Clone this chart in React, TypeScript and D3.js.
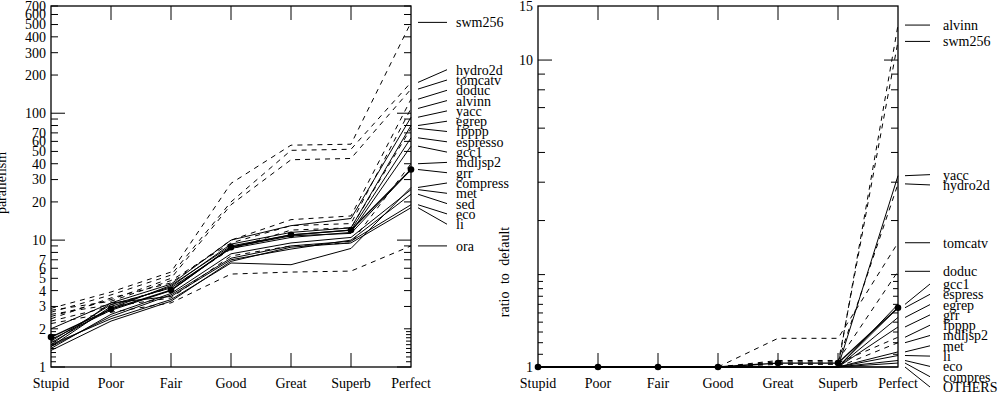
import React from "react";
import * as d3 from "d3";

const levels = ["Stupid", "Poor", "Fair", "Good", "Great", "Superb", "Perfect"];

// parallelism under each model (left panel)
const parSwm256 = [2.9, 3.9, 5.6, 28, 56, 57, 520];
const parHydro2d = [2.7, 3.7, 5.3, 20, 51, 52, 175];
const parTomcatv = [2.5, 3.4, 5.0, 19, 43, 44, 155];
const parDoduc = [2.4, 3.5, 4.6, 10, 14.5, 15.5, 129];
const parAlvinn = [2.8, 3.3, 4.8, 9.5, 13, 13.5, 109];
const parYacc = [1.5, 3.2, 4.5, 10, 13, 14.8, 93];
const parEgrep = [1.45, 3.0, 4.3, 9.3, 11.5, 12.5, 80];
const parFpppp = [2.6, 3.1, 4.2, 8.5, 12, 12.5, 76];
const parEspresso = [1.55, 2.9, 4.4, 9.0, 11, 12, 64];
const parGcc1 = [1.6, 3.1, 4.2, 8.6, 10.5, 11.5, 55];
const parMdljsp2 = [2.3, 3.0, 3.5, 7.5, 9, 9.5, 40];
const parGrr = [1.65, 2.8, 4.0, 8.8, 10.8, 11.3, 36];
const parCompress = [1.5, 2.4, 3.4, 6.6, 6.4, 8.6, 26];
const parMet = [1.4, 2.6, 3.8, 7.8, 9.5, 10.5, 25];
const parSed = [2.0, 3.2, 3.6, 7.0, 8.5, 10, 23];
const parEco = [1.45, 2.5, 3.7, 7.2, 9.0, 9.8, 19];
const parLi = [1.35, 2.3, 3.3, 6.8, 8.8, 9.5, 18];
const parOra = [2.2, 2.7, 3.2, 5.4, 5.6, 5.7, 9];
const parMean = [1.72, 2.86, 4.04, 8.8, 11, 12, 36];

// ratio to the default model (right panel)
const ratAlvinn = [1, 1, 1, 1, 1, 1, 13.0];
const ratSwm256 = [1, 1, 1, 1, 1.02, 1.02, 11.5];
const ratYacc = [1, 1, 1, 1, 1, 1, 4.2];
const ratHydro2d = [1, 1, 1, 1, 1.04, 1.04, 3.95];
const ratTomcatv = [1, 1, 1, 1, 1.24, 1.24, 2.54];
const ratDoduc = [1, 1, 1, 1, 1.05, 1.05, 2.05];
const ratGcc1 = [1, 1, 1, 1, 1, 1, 1.6];
const ratEspress = [1, 1, 1, 1, 1, 1, 1.56];
const ratEgrep = [1, 1, 1, 1, 1, 1, 1.45];
const ratGrr = [1, 1, 1, 1, 1, 1, 1.35];
const ratFpppp = [1, 1, 1, 1, 1.03, 1.03, 1.25];
const ratMdljsp2 = [1, 1, 1, 1, 1, 1, 1.2];
const ratMet = [1, 1, 1, 1, 1, 1, 1.12];
const ratLi = [1, 1, 1, 1, 1, 1, 1.09];
const ratEco = [1, 1, 1, 1, 1, 1, 1.05];
const ratCompres = [1, 1, 1, 1, 1, 1, 1.03];
const ratOthers = [1, 1, 1, 1, 1, 1, 1];
const ratMean = [1, 1, 1, 1, 1.03, 1.03, 1.56];

// axis ticks
const parMajor = [1, 10, 100];
const parMinor = [2, 3, 4, 5, 6, 7, 8, 9, 20, 30, 40, 50, 60, 70, 80, 90, 200, 300, 400, 500, 600, 700];
const parTickLabels = [1, 2, 3, 4, 5, 6, 7, 10, 20, 30, 40, 50, 60, 70, 100, 200, 300, 400, 500, 600, 700];
const ratMajor = [10];
const ratMinor = [2, 3, 4, 5, 6, 7, 8, 9];
const ratTickLabels = [1, 10, 15];
const fineTicks = [1.1, 1.2, 1.3, 1.4, 1.5, 1.6, 1.7, 1.8, 1.9];

const parSeries = [
	{ name: "swm256", values: parSwm256, dashed: true },
	{ name: "hydro2d", values: parHydro2d, dashed: true },
	{ name: "tomcatv", values: parTomcatv, dashed: true },
	{ name: "doduc", values: parDoduc, dashed: true },
	{ name: "alvinn", values: parAlvinn, dashed: true },
	{ name: "yacc", values: parYacc, dashed: false },
	{ name: "egrep", values: parEgrep, dashed: false },
	{ name: "fpppp", values: parFpppp, dashed: true },
	{ name: "espresso", values: parEspresso, dashed: false },
	{ name: "gcc1", values: parGcc1, dashed: false },
	{ name: "mdljsp2", values: parMdljsp2, dashed: true },
	{ name: "grr", values: parGrr, dashed: false },
	{ name: "compress", values: parCompress, dashed: false },
	{ name: "met", values: parMet, dashed: false },
	{ name: "sed", values: parSed, dashed: false },
	{ name: "eco", values: parEco, dashed: false },
	{ name: "li", values: parLi, dashed: false },
	{ name: "ora", values: parOra, dashed: true },
];

const ratSeries = [
	{ name: "alvinn", values: ratAlvinn, dashed: true },
	{ name: "swm256", values: ratSwm256, dashed: true },
	{ name: "yacc", values: ratYacc, dashed: false },
	{ name: "hydro2d", values: ratHydro2d, dashed: true },
	{ name: "tomcatv", values: ratTomcatv, dashed: true },
	{ name: "doduc", values: ratDoduc, dashed: true },
	{ name: "gcc1", values: ratGcc1, dashed: false },
	{ name: "espress", values: ratEspress, dashed: false },
	{ name: "egrep", values: ratEgrep, dashed: false },
	{ name: "grr", values: ratGrr, dashed: false },
	{ name: "fpppp", values: ratFpppp, dashed: true },
	{ name: "mdljsp2", values: ratMdljsp2, dashed: true },
	{ name: "met", values: ratMet, dashed: false },
	{ name: "li", values: ratLi, dashed: false },
	{ name: "eco", values: ratEco, dashed: false },
	{ name: "compres", values: ratCompres, dashed: false },
	{ name: "OTHERS", values: ratOthers, dashed: false },
];

const FONT = "'Liberation Serif', 'Times New Roman', serif";

// spread end labels so they don't overlap; clusters are centred on their mean
function placeLabels(items, gap, maxY) {
	const sorted = [...items].sort((a, b) => a.y - b.y);
	let groups = sorted.map(d => ({ items: [d], center: d.y }));
	let merged = true;
	while (merged) {
		merged = false;
		for (let i = 1; i < groups.length; i++) {
			const a = groups[i - 1], b = groups[i];
			const aBottom = a.center + (a.items.length - 1) * gap / 2;
			const bTop = b.center - (b.items.length - 1) * gap / 2;
			if (bTop - aBottom < gap) {
				const its = a.items.concat(b.items);
				groups.splice(i - 1, 2, { items: its, center: d3.mean(its, d => d.y) });
				merged = true;
				break;
			}
		}
	}
	const last = groups[groups.length - 1];
	const lastBottom = last.center + (last.items.length - 1) * gap / 2;
	if (lastBottom > maxY) last.center -= lastBottom - maxY;
	const out = [];
	groups.forEach(g => {
		const start = g.center - (g.items.length - 1) * gap / 2;
		g.items.forEach((d, i) => out.push({ ...d, ly: start + i * gap }));
	});
	return out;
}

function Panel(props) {
	const { left, right, top, bottom, domain, series, mean, major, minor, tickLabels, title, titleX, titleY, labelEnd } = props;
	const x = d3.scalePoint().domain(levels).range([left, right]);
	const y = d3.scaleLog().domain(domain).range([bottom, top]);
	const line = d3.line().x((d, i) => x(levels[i])).y(d => y(d));

	const labels = placeLabels(
		series.map(s => ({ name: s.name, y: y(s.values[s.values.length - 1]) })),
		10.3, 387);

	const tick = (v, len, key) => (
		<g key={key}>
			<line x1={left} x2={left + len} y1={y(v)} y2={y(v)} stroke="black" />
			<line x1={right - len} x2={right} y1={y(v)} y2={y(v)} stroke="black" />
		</g>
	);

	return (
		<g>
			{/* data lines */}
			{series.map(s => (
				<path key={s.name} d={line(s.values)} fill="none" stroke="black" strokeWidth={1}
					strokeDasharray={s.dashed ? "5,5" : null} />
			))}
			<path d={line(mean)} fill="none" stroke="black" strokeWidth={1.3} />
			{mean.map((v, i) => <circle key={i} cx={x(levels[i])} cy={y(v)} r={3.3} fill="black" />)}

			{/* frame + ticks */}
			<rect x={left} y={top} width={right - left} height={bottom - top} fill="none" stroke="black" strokeWidth={1.3} />
			{major.map((v, i) => tick(v, 14, "M" + i))}
			{minor.map((v, i) => tick(v, 7, "m" + i))}
			{fineTicks.map((v, i) => tick(v, 5, "f" + i))}
			{levels.slice(1, -1).map(l => (
				<g key={l}>
					<line x1={x(l)} x2={x(l)} y1={bottom} y2={bottom - 14} stroke="black" />
					<line x1={x(l)} x2={x(l)} y1={top} y2={top + 14} stroke="black" />
				</g>
			))}

			{/* tick labels */}
			{tickLabels.map(v => (
				<text key={v} x={left - 5} y={y(v)} dy="0.35em" textAnchor="end">{v}</text>
			))}
			{levels.map(l => (
				<text key={l} x={x(l)} y={bottom + 21} textAnchor="middle">{l}</text>
			))}
			<text transform={`translate(${titleX},${titleY})rotate(-90)`} textAnchor="middle"
				style={{ wordSpacing: "4px" }}>{title}</text>

			{/* end labels with leaders */}
			{labels.map(d => (
				<g key={d.name}>
					<line x1={right + 7} y1={d.y} x2={right + labelEnd} y2={d.ly} stroke="black" />
					<text x={right + 45} y={d.ly} dy="0.35em">{d.name}</text>
				</g>
			))}
		</g>
	);
}

export default function App() {
	return (
		<svg width={998} height={400} style={{ position: "absolute", left: 0, top: 0, background: "white" }}
			fontFamily={FONT} fontSize={14}>
			<Panel left={51} right={411} top={6} bottom={367} domain={[1, 700]}
				series={parSeries} mean={parMean} major={parMajor} minor={parMinor}
				tickLabels={parTickLabels} title="parallelism" titleX={6} titleY={183} labelEnd={36} />
			<Panel left={538} right={898} top={6} bottom={367} domain={[1, 15]}
				series={ratSeries} mean={ratMean} major={ratMajor} minor={ratMinor}
				tickLabels={ratTickLabels} title="ratio to default" titleX={509} titleY={272} labelEnd={32} />
		</svg>
	);
}
